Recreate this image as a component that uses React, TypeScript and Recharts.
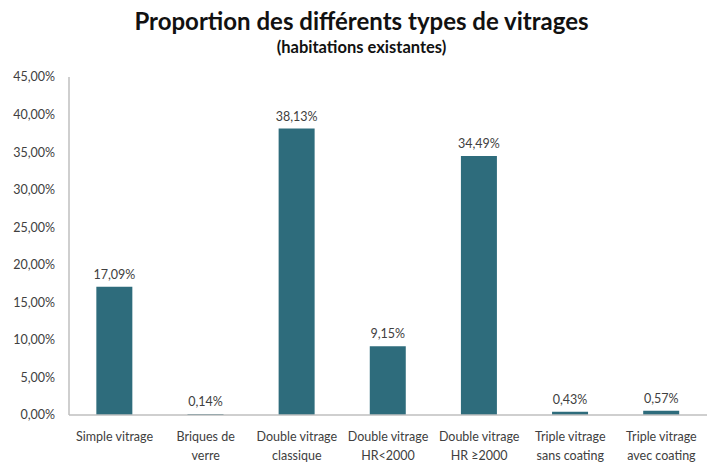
import { BarChart, Bar, XAxis, YAxis, LabelList } from 'recharts';

// Proportion des différents types de vitrages (habitations existantes)
const categories = [
  'Simple vitrage',
  'Briques de\nverre',
  'Double vitrage\nclassique',
  'Double vitrage\nHR<2000',
  'Double vitrage\nHR ≥2000',
  'Triple vitrage\nsans coating',
  'Triple vitrage\navec coating',
];
const shares = [17.09, 0.14, 38.13, 9.15, 34.49, 0.43, 0.57];
const yTicks = [0, 5, 10, 15, 20, 25, 30, 35, 40, 45];

const data = categories.map((name, i) => ({ name, value: shares[i] }));

const FONT = 'Lato, "Open Sans", sans-serif';
const BAR_COLOR = '#2e6c7c';
const TEXT_COLOR = '#404040';

const pct = (v: number) => v.toFixed(2).replace('.', ',') + '%';

const CategoryTick = ({ x, y, payload }: any) => {
  const lines = String(payload.value).split('\n');
  return (
    <text x={x} y={y} textAnchor="middle" fill={TEXT_COLOR} fontSize={12.5} fontFamily={FONT}>
      {lines.map((line, i) => (
        <tspan key={i} x={x} dy={i === 0 ? 18 : 19}>{line}</tspan>
      ))}
    </text>
  );
};

export default function App() {
  return (
    <div style={{ position: 'absolute', left: 0, top: 0, width: 723, height: 466, background: '#fff' }}>
      <div style={{ position: 'absolute', left: 0, top: 6, width: 723, textAlign: 'center', fontFamily: FONT, fontWeight: 700, fontSize: 24, lineHeight: '30px', color: '#111' }}>
        Proportion des différents types de vitrages
      </div>
      <div style={{ position: 'absolute', left: 0, top: 36, width: 723, textAlign: 'center', fontFamily: FONT, fontWeight: 700, fontSize: 16.5, lineHeight: '22px', color: '#111' }}>
        (habitations existantes)
      </div>
      <BarChart
        width={723}
        height={466}
        data={data}
        margin={{ top: 77, right: 16, left: 0, bottom: 0 }}
        barCategoryGap="30%"
      >
        <XAxis
          dataKey="name"
          interval={0}
          height={51}
          tick={<CategoryTick />}
          tickLine={false}
          axisLine={{ stroke: '#bfbfbf', strokeWidth: 1.5 }}
        />
        <YAxis
          width={69}
          domain={[0, 45]}
          ticks={yTicks}
          tickFormatter={pct}
          tickLine={false}
          tickSize={0}
          tickMargin={14}
          axisLine={{ stroke: '#bfbfbf', strokeWidth: 1.5 }}
          tick={{ fill: TEXT_COLOR, fontSize: 12.5, fontFamily: FONT }}
        />
        <Bar dataKey="value" fill={BAR_COLOR} isAnimationActive={false}>
          <LabelList
            dataKey="value"
            position="top"
            offset={8}
            formatter={(v: any) => pct(Number(v))}
            style={{ fill: TEXT_COLOR, fontSize: 12.5, fontFamily: FONT }}
          />
        </Bar>
      </BarChart>
    </div>
  );
}
